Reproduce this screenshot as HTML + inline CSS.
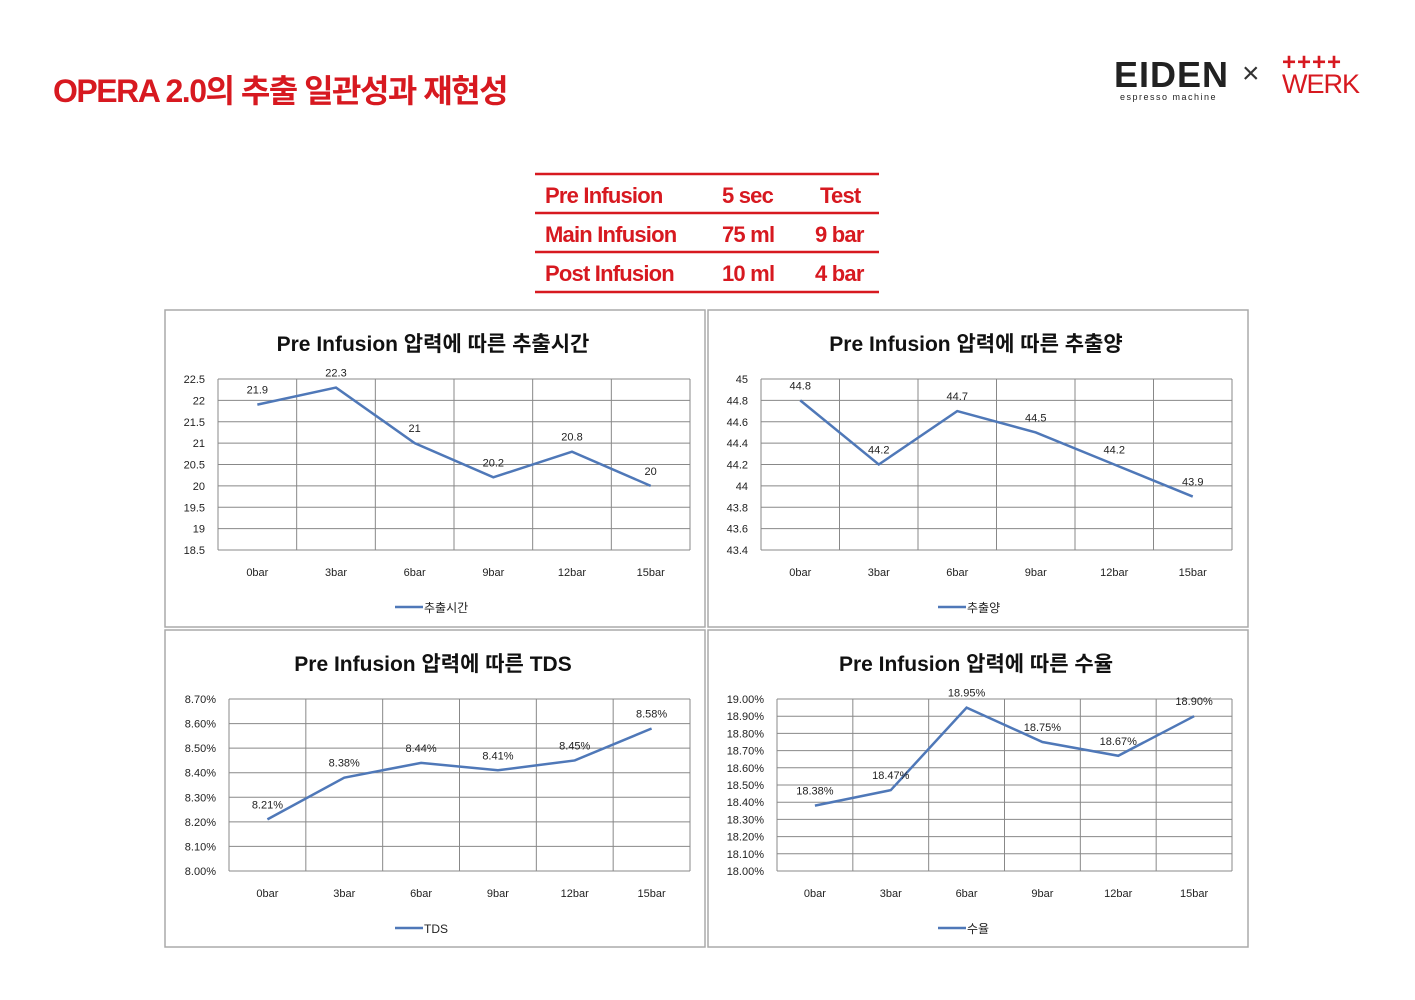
<!DOCTYPE html>
<html><head><meta charset="utf-8">
<style>
body{margin:0;width:1415px;height:1000px;background:#fff;font-family:"Liberation Sans","Noto Sans CJK KR",sans-serif;position:relative;overflow:hidden}
.t{position:absolute}
</style></head><body>
<div class="t" style="left:53px;top:66px;font-size:32px;font-weight:bold;color:#d71920;letter-spacing:-1.5px">OPERA 2.0의 추출 일관성과 재현성</div>
<div class="t" style="left:1114px;top:55px;width:260px;height:50px">
 <div class="t" style="left:0;top:0;font-size:36px;font-weight:bold;color:#222;letter-spacing:1px;line-height:40px">EIDEN</div>
 <div class="t" style="left:6px;top:37px;font-size:9px;color:#222;letter-spacing:1.5px">espresso machine</div>
 <div class="t" style="left:128px;top:2px;font-size:30px;color:#333">×</div>
 <div class="t" style="left:168px;top:-6px;font-size:24px;color:#d71920;font-weight:bold;letter-spacing:1px">++++</div>
 <div class="t" style="left:168px;top:14px;font-size:27px;color:#d71920;letter-spacing:-1px">WERK</div>
</div>
<svg class="t" style="left:0;top:0" width="1415" height="310">
 <g stroke="#d71920" stroke-width="2.5"><line x1="535" x2="879" y1="174" y2="174"/><line x1="535" x2="879" y1="213" y2="213"/><line x1="535" x2="879" y1="252" y2="252"/><line x1="535" x2="879" y1="292" y2="292"/></g>
 <g fill="#d71920" font-size="22" font-weight="bold" letter-spacing="-0.8" font-family="Liberation Sans, sans-serif">
  <text x="545" y="203">Pre Infusion</text><text x="722" y="203">5 sec</text><text x="820" y="203">Test</text>
  <text x="545" y="242">Main Infusion</text><text x="722" y="242">75 ml</text><text x="815" y="242">9 bar</text>
  <text x="545" y="281">Post Infusion</text><text x="722" y="281">10 ml</text><text x="815" y="281">4 bar</text>
 </g>
</svg>
<svg id="charts" class="t" style="left:0;top:0" width="1415" height="1000"></svg>
<script>
const categories=["0bar","3bar","6bar","9bar","12bar","15bar"];
const timeValues=[21.9,22.3,21,20.2,20.8,20];
const volumeValues=[44.8,44.2,44.7,44.5,44.2,43.9];
const tdsValues=[8.21,8.38,8.44,8.41,8.45,8.58];
const yieldValues=[18.38,18.47,18.95,18.75,18.67,18.90];
const timeTicks=[18.5,19,19.5,20,20.5,21,21.5,22,22.5];
const volumeTicks=[43.4,43.6,43.8,44,44.2,44.4,44.6,44.8,45];
const tdsTicks=[8.0,8.1,8.2,8.3,8.4,8.5,8.6,8.7];
const yieldTicks=[18.0,18.1,18.2,18.3,18.4,18.5,18.6,18.7,18.8,18.9,19.0];
const NS="http://www.w3.org/2000/svg";
const svg=document.getElementById('charts');
function mk(tag,at,txt){const e=document.createElementNS(NS,tag);for(const k in at)e.setAttribute(k,at[k]);if(txt!==undefined)e.textContent=txt;svg.appendChild(e);return e;}
function chart(c){
 const p=mk('rect',{x:c.px,y:c.py,width:540,height:317,fill:'#fff',stroke:'#aaa','stroke-width':1.5});
 
 
 const t=mk('text',{x:c.px+268,y:c.py+41,'text-anchor':'middle','font-size':21,'font-weight':'bold',fill:'#111'},c.title);
 
 
 const lo=c.ticks[0],hi=c.ticks[c.ticks.length-1];
 const y=v=>c.y1-(v-lo)/(hi-lo)*(c.y1-c.y0);
 const bw=(c.x1-c.x0)/categories.length;
 const x=i=>c.x0+bw*(i+0.5);
 c.ticks.forEach(v=>{
  const g=mk('line',{x1:c.x0,x2:c.x1,y1:y(v),y2:y(v),stroke:'#888','stroke-width':1});
  
  
  const l=mk('text',{x:c.x0-13,y:y(v)+4,'text-anchor':'end','font-size':11,fill:'#222'},c.fmt(v));
  
  
 });
 for(let i=0;i<=categories.length;i++){
  const g=mk('line',{x1:c.x0+bw*i,x2:c.x0+bw*i,y1:c.y0,y2:c.y1,stroke:'#888','stroke-width':1});
  
  
 }
 categories.forEach((k,i)=>{
  const l=mk('text',{x:x(i),y:c.y1+26,'text-anchor':'middle','font-size':11,fill:'#222'},k);
  
  
 });
 const pts=c.values.map((v,i)=>x(i)+','+y(v)).join(' ');
 const pl=mk('polyline',{points:pts,fill:'none',stroke:'#4f78b8','stroke-width':2.5});
 
 
 c.values.forEach((v,i)=>{
  const l=mk('text',{x:x(i),y:y(v)-11,'text-anchor':'middle','font-size':11,fill:'#222'},c.lab(v));
  
  
 });
 const cx=c.px+270,ly=c.y1+57;
 const ll=mk('line',{x1:cx-40,x2:cx-12,y1:ly,y2:ly,stroke:'#4f78b8','stroke-width':2.5});
 
 
 const lt=mk('text',{x:cx-11,y:ly+5,'font-size':12,fill:'#222'},c.legend);
 
 
}
const pct=v=>v.toFixed(2)+'%';
chart({name:'time-chart',px:165,py:310,x0:218,x1:690,y0:379,y1:550,ticks:timeTicks,values:timeValues,fmt:v=>String(v),lab:v=>String(v),title:'Pre Infusion 압력에 따른 추출시간',legend:'추출시간'});
chart({name:'volume-chart',px:708,py:310,x0:761,x1:1232,y0:379,y1:550,ticks:volumeTicks,values:volumeValues,fmt:v=>String(v),lab:v=>String(v),title:'Pre Infusion 압력에 따른 추출양',legend:'추출양'});
chart({name:'tds-chart',px:165,py:630,x0:229,x1:690,y0:699,y1:871,ticks:tdsTicks,values:tdsValues,fmt:pct,lab:pct,title:'Pre Infusion 압력에 따른 TDS',legend:'TDS'});
chart({name:'yield-chart',px:708,py:630,x0:777,x1:1232,y0:699,y1:871,ticks:yieldTicks,values:yieldValues,fmt:pct,lab:pct,title:'Pre Infusion 압력에 따른 수율',legend:'수율'});
</script>
</body></html>
